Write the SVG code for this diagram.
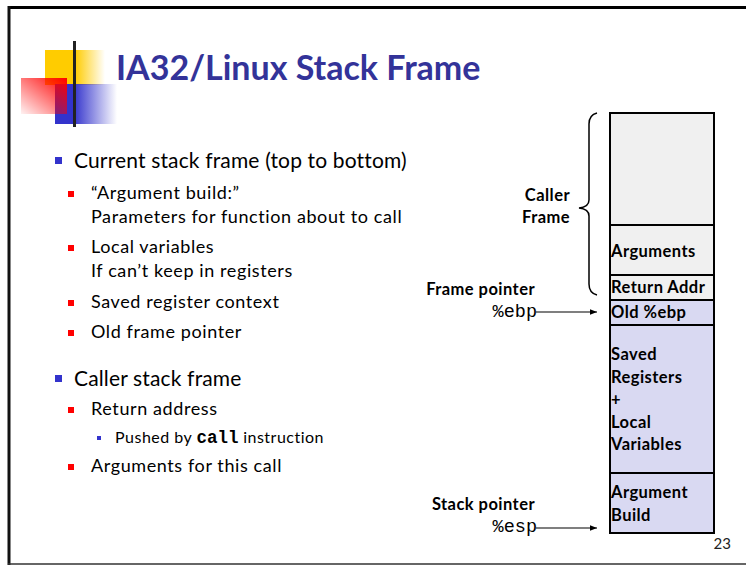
<svg xmlns="http://www.w3.org/2000/svg" width="746" height="566" viewBox="0 0 746 566">
<defs>
<linearGradient id="gY" x1="0" y1="0" x2="1" y2="0"><stop offset="0.5" stop-color="#ffcc00"/><stop offset="1" stop-color="#ffcc00" stop-opacity="0"/></linearGradient>
<linearGradient id="gB" x1="0" y1="0" x2="1" y2="0"><stop offset="0.3" stop-color="#3333cc"/><stop offset="1" stop-color="#3333cc" stop-opacity="0"/></linearGradient>
<linearGradient id="gR" x1="1" y1="0" x2="0" y2="1"><stop offset="0" stop-color="#ff0000"/><stop offset="1" stop-color="#ff0000" stop-opacity="0.05"/></linearGradient>
<linearGradient id="gL" x1="0" y1="0" x2="1" y2="0"><stop offset="0" stop-color="#222"/><stop offset="0.5" stop-color="#888"/><stop offset="1" stop-color="#fff"/></linearGradient>
<marker id="arr" viewBox="0 0 10 10" refX="10" refY="5" markerWidth="7" markerHeight="7" orient="auto" markerUnits="userSpaceOnUse"><path d="M0,1 L10,5 L0,9 z" fill="#000"/></marker>
<style>
.t{font-family:Lato,"Open Sans","Liberation Sans",sans-serif;fill:#000}
.s{font-size:18px;letter-spacing:0.6px}
.top{font-size:21px;letter-spacing:0.15px}
.b{font-weight:bold}
.m{font-family:"Liberation Mono","Courier New",monospace}
.cell{stroke:#000;stroke-width:2}
.g{fill:#f0f0f0}
.p{fill:#d9d9f2}
.lbl{font-family:Lato,"Open Sans","Liberation Sans",sans-serif;font-weight:bold;font-size:16.5px;letter-spacing:0.45px}
</style>
</defs>
<rect width="746" height="566" fill="#fff"/>
<!-- slide frame -->
<line x1="8" y1="7.5" x2="746" y2="7.5" stroke="#000" stroke-width="3"/>
<line x1="9" y1="6" x2="9" y2="565" stroke="#111" stroke-width="3"/>
<line x1="8" y1="564" x2="746" y2="564" stroke="#333" stroke-width="1.5"/>
<!-- logo -->
<g id="logo">
<rect x="45" y="50" width="60" height="35" fill="url(#gY)"/>
<rect x="55" y="84" width="62" height="40" fill="url(#gB)"/>
<rect x="21" y="78" width="46" height="36" fill="url(#gR)"/>
<line x1="46" y1="107" x2="700" y2="107" stroke="url(#gL)" stroke-width="3"/>
<line x1="74.5" y1="41" x2="74.5" y2="127" stroke="#222" stroke-width="3"/>
</g>
<text class="t b" x="116" y="80" font-size="34" style="fill:#333399">IA32/Linux Stack Frame</text>
<!-- bullets -->
<g id="bullets">
<rect x="55" y="157" width="7" height="7" fill="#3333cc"/>
<text class="t top" x="74" y="168">Current stack frame (top to bottom)</text>
<rect x="68" y="191" width="6" height="6" fill="#ff0000"/>
<text class="t s" x="91" y="199">“Argument build:”</text>
<text class="t s" x="91" y="223">Parameters for function about to call</text>
<rect x="68" y="245" width="6" height="6" fill="#ff0000"/>
<text class="t s" x="91" y="253">Local variables</text>
<text class="t s" x="91" y="277">If can’t keep in registers</text>
<rect x="68" y="300" width="6" height="6" fill="#ff0000"/>
<text class="t s" x="91" y="308">Saved register context</text>
<rect x="68" y="330" width="6" height="6" fill="#ff0000"/>
<text class="t s" x="91" y="338">Old frame pointer</text>
<rect x="55" y="375" width="7" height="7" fill="#3333cc"/>
<text class="t top" x="74" y="386">Caller stack frame</text>
<rect x="68" y="407" width="6" height="6" fill="#ff0000"/>
<text class="t s" x="91" y="415">Return address</text>
<rect x="97" y="436" width="4" height="4" fill="#3333cc"/>
<text class="t" x="115" y="443" font-size="16" letter-spacing="0.5">Pushed by <tspan class="m" font-weight="bold" font-size="17.5" letter-spacing="0">call</tspan> instruction</text>
<rect x="68" y="464" width="6" height="6" fill="#ff0000"/>
<text class="t s" x="91" y="472">Arguments for this call</text>
</g>
<!-- stack -->
<g id="cell-caller-top"><rect class="cell g" x="610" y="113" width="104" height="112"/></g>
<g id="cell-arguments"><rect class="cell g" x="610" y="225" width="104" height="50"/><text class="lbl" x="611" y="257">Arguments</text></g>
<g id="cell-return"><rect class="cell g" x="610" y="275" width="104" height="25"/><text class="lbl" x="611" y="293">Return Addr</text></g>
<g id="cell-oldebp"><rect class="cell p" x="610" y="300" width="104" height="25"/><text class="lbl" x="611" y="318">Old %ebp</text></g>
<g id="cell-saved"><rect class="cell p" x="610" y="325" width="104" height="148"/>
<text class="lbl" x="611" y="360">Saved</text><text class="lbl" x="611" y="383">Registers</text><text class="lbl" x="611" y="405">+</text><text class="lbl" x="611" y="428">Local</text><text class="lbl" x="611" y="450">Variables</text></g>
<g id="cell-argbuild"><rect class="cell p" x="610" y="473" width="104" height="60"/><text class="lbl" x="611" y="498">Argument</text><text class="lbl" x="611" y="521">Build</text></g>
<!-- brace and labels -->
<g id="caller-frame">
<path d="M597,113 Q589,115 589,124 L589,200 Q589,207 579,208 Q589,209 589,216 L589,284 Q589,293 597,295" fill="none" stroke="#000" stroke-width="1.5"/>
<text class="lbl" x="570" y="201" text-anchor="end">Caller</text>
<text class="lbl" x="570" y="223" text-anchor="end">Frame</text>
</g>
<g id="frame-pointer">
<text class="lbl" x="535" y="295" text-anchor="end">Frame pointer</text>
<text class="m" x="537" y="317" font-size="18.5" text-anchor="end">%ebp</text>
</g>
<g id="stack-pointer">
<text class="lbl" x="535" y="510" text-anchor="end">Stack pointer</text>
<text class="m" x="537" y="532" font-size="18.5" text-anchor="end">%esp</text>
</g>
<g id="connectors">
<line x1="536" y1="312" x2="597" y2="312" stroke="#000" stroke-width="1.2" marker-end="url(#arr)"/>
<line x1="536" y1="528" x2="597" y2="528" stroke="#000" stroke-width="1.2" marker-end="url(#arr)"/>
</g>
<text class="t" x="731" y="549" font-size="15" text-anchor="end" style="fill:#222">23</text>
</svg>
